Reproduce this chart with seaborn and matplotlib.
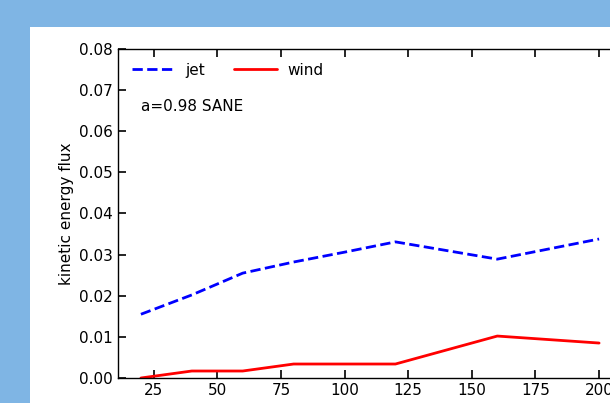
import pandas as pd
import numpy as np
import matplotlib.pyplot as plt
import seaborn as sns
from matplotlib.patches import Rectangle

# Values
spin_x = [20, 40, 60, 80, 100, 120, 160, 200]
jet_flux = [0.0155, 0.0202, 0.0255, 0.0282, 0.0306, 0.0331, 0.0289, 0.0338]
wind_flux = [0.0, 0.0017, 0.0017, 0.0034, 0.0034, 0.0034, 0.0102, 0.0085]
series_names = ['jet', 'wind']

df = pd.DataFrame({
    'x': spin_x * 2,
    'flux': jet_flux + wind_flux,
    'series': ['jet'] * len(spin_x) + ['wind'] * len(spin_x),
})

sns.set_style('ticks')
plt.rcParams['font.family'] = ['DejaVu Sans']
plt.rcParams['text.color'] = 'black'
plt.rcParams['axes.labelcolor'] = 'black'
plt.rcParams['xtick.color'] = 'black'
plt.rcParams['ytick.color'] = 'black'

W, H = 610, 403
fig = plt.figure(figsize=(W / 100, H / 100), dpi=100, facecolor='#7fb5e4')
# white page area (screenshot is cropped with a blue border at top/left)
fig.patches.append(Rectangle((30 / W, 0), 1, 1 - 27 / H, transform=fig.transFigure,
                             facecolor='white', edgecolor='none', zorder=-10))

ax = fig.add_axes([118 / W, 25 / H, (622 - 118) / W, (378 - 49) / H])
ax.set_facecolor('white')

sns.lineplot(data=df, x='x', y='flux', hue='series', style='series',
             hue_order=series_names, style_order=series_names,
             palette={'jet': 'blue', 'wind': 'red'},
             dashes={'jet': (3.7, 1.6), 'wind': ''},
             linewidth=2, ax=ax)

ax.set_ylim(0, 0.08)
ax.set_xticks([25, 50, 75, 100, 125, 150, 175, 200])
ax.set_yticks(np.arange(0, 0.081, 0.01))
ax.yaxis.set_major_formatter(plt.FormatStrFormatter('%.2f'))
ax.tick_params(direction='in', top=True, right=True, length=6, width=1.2, labelsize=11)
for s in ax.spines.values():
    s.set_linewidth(1)
    s.set_color('black')

ax.set_xlabel('')
ax.set_ylabel('kinetic energy flux', fontsize=11)
ax.legend(loc='upper left', ncol=2, frameon=False, fontsize=11,
          handlelength=2.8, handletextpad=0.7, columnspacing=1.9)
ax.text(0.045, 0.812, 'a=0.98 SANE', transform=ax.transAxes, fontsize=11)

fig.savefig('out.png', dpi=100, facecolor=fig.get_facecolor())
